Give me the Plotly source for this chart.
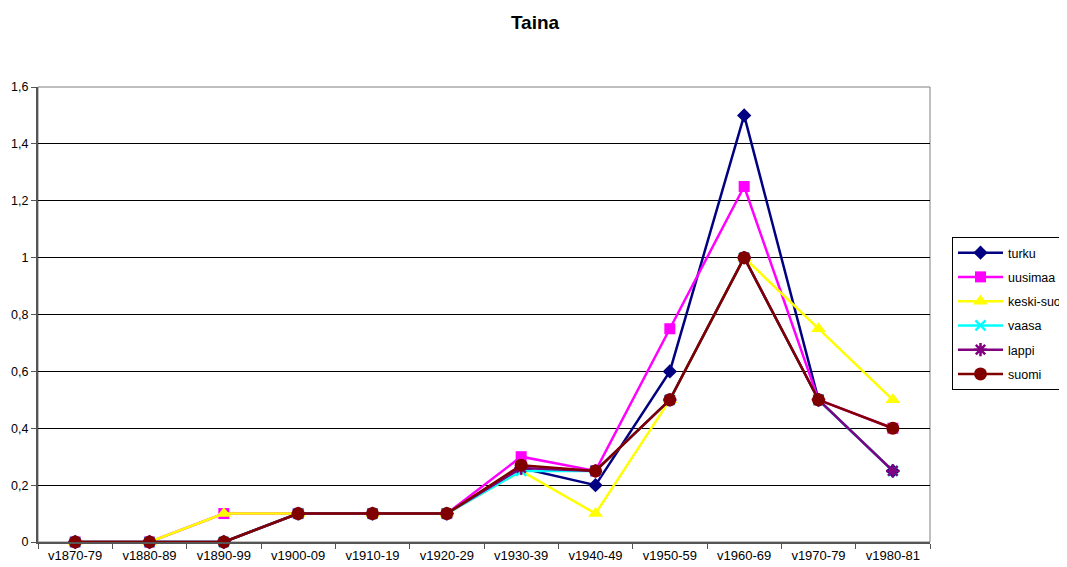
import plotly.graph_objects as go

categories = ["v1870-79", "v1880-89", "v1890-99", "v1900-09", "v1910-19", "v1920-29",
              "v1930-39", "v1940-49", "v1950-59", "v1960-69", "v1970-79", "v1980-81"]

turku = [0, 0, 0, 0.1, 0.1, 0.1, 0.26, 0.2, 0.6, 1.5, 0.5, 0.25]
uusimaa = [0, 0, 0.1, 0.1, 0.1, 0.1, 0.3, 0.25, 0.75, 1.25, 0.5, 0.4]
keski_suomi = [0, 0, 0.1, 0.1, 0.1, 0.1, 0.25, 0.1, 0.5, 1.0, 0.75, 0.5]
vaasa = [0, 0, 0, 0.1, 0.1, 0.1, 0.25, 0.25, 0.5, 1.0, 0.5, 0.25]
lappi = [0, 0, 0, 0.1, 0.1, 0.1, 0.26, 0.25, 0.5, 1.0, 0.5, 0.25]
suomi = [0, 0, 0, 0.1, 0.1, 0.1, 0.27, 0.25, 0.5, 1.0, 0.5, 0.4]

series = [
    ("turku", turku, "#000080", "diamond", 11, 0),
    ("uusimaa", uusimaa, "#FF00FF", "square", 11, 0),
    ("keski-suomi", keski_suomi, "#FFFF00", "triangle-up", 13, 0),
    ("vaasa", vaasa, "#00FFFF", "x-thin", 10, 2.5),
    ("lappi", lappi, "#800080", "asterisk", 11, 2.5),
    ("suomi", suomi, "#800000", "circle", 13, 0),
]

fig = go.Figure()
for name, vals, color, sym, size, lw in series:
    marker = dict(symbol=sym, size=size, color=color)
    if lw:
        marker["line"] = dict(color=color, width=lw)
    else:
        marker["line"] = dict(width=0)
    fig.add_trace(go.Scatter(
        x=categories, y=vals, name=name, mode="lines+markers", legendgroup=name,
        line=dict(color=color, width=2.5), marker=marker, cliponaxis=False,
    ))

fig.update_layout(
    width=1067, height=567,
    paper_bgcolor="white", plot_bgcolor="white",
    font=dict(family="Liberation Sans, Arial, sans-serif", size=12, color="black"),
    separators=", ",
    title=dict(text="<b>Taina</b>", x=(535 - 8) / 1067, xref="container", xanchor="center",
               y=1 - 14 / 567, yref="container", yanchor="middle",
               font=dict(size=19, color="black")),
    margin=dict(l=30, r=145, t=79, b=33, autoexpand=False),
    showlegend=True,
    legend=dict(x=(944 - 30) / 892, xanchor="left", y=(534 - 229) / 455, yanchor="top",
                bordercolor="black", borderwidth=1, bgcolor="white",
                font=dict(size=12.5, color="black"), itemwidth=45, tracegroupgap=5),
    shapes=[dict(type="rect", xref="paper", yref="paper", x0=0, x1=1, y0=0, y1=1,
                 line=dict(color="#808080", width=1), layer="below")],
)
fig.update_xaxes(
    type="category", range=[-0.5, 11.5], showgrid=False,
    showline=True, linecolor="#555555", linewidth=2,
    ticks="outside", tickson="boundaries", ticklen=5, tickcolor="#555555",
    tickfont=dict(size=13, color="black"),
)
fig.update_yaxes(
    range=[0, 1.6], dtick=0.2, tick0=0, showgrid=True, gridcolor="black", gridwidth=1,
    showline=True, linecolor="#555555", linewidth=2, zeroline=False,
    ticks="outside", ticklen=5, tickcolor="#555555",
    tickfont=dict(size=12.5, color="black"),
)

fig.write_html("out.html")
